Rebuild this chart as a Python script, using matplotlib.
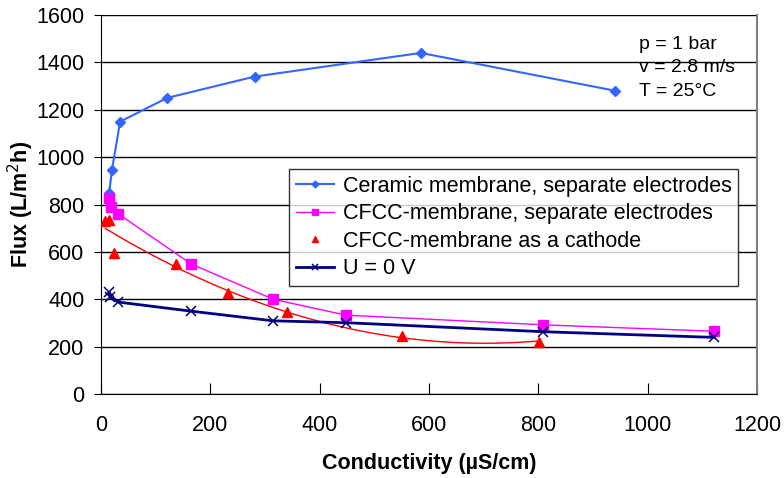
import numpy as np
import matplotlib
matplotlib.use("Agg")
import matplotlib.pyplot as plt

plt.rcParams['font.family'] = ['Liberation Sans', 'DejaVu Sans']

# conductivity (uS/cm) and flux (L/m2h)
ceramic_x = [14, 15, 20, 35, 121, 281, 585, 941]
ceramic_y = [840, 850, 945, 1150, 1250, 1340, 1440, 1280]

cfcc_x = [14, 18, 32, 165, 315, 448, 809, 1122]
cfcc_y = [828, 788, 760, 549, 400, 333, 292, 265]

cathode_x = [8, 15, 24, 137, 232, 341, 551, 801]
cathode_y = [730, 734, 594, 549, 425, 346, 245, 221]

zero_x = [15, 17, 32, 164, 315, 449, 809, 1122]
zero_y = [429, 410, 388, 350, 309, 301, 263, 239]

fig = plt.figure(figsize=(7.84, 4.78), dpi=100)
ax = fig.add_axes([0.1288, 0.1757, 0.8368, 0.7929])

fs = 15.5

ax.plot(ceramic_x, ceramic_y, color='#3366FF', marker='D', markersize=5,
        lw=1.5, label='Ceramic membrane, separate electrodes', zorder=4)
ax.plot(cfcc_x, cfcc_y, color='#FF00FF', marker='s', markersize=7,
        lw=1, label='CFCC-membrane, separate electrodes', zorder=4)
ax.plot(cathode_x, cathode_y, color='#FF0000', marker='^', markersize=7,
        lw=0, label='CFCC-membrane as a cathode', zorder=4)
# polynomial trendline
coef = np.polyfit(cathode_x, cathode_y, 2)
xs = np.linspace(min(cathode_x), max(cathode_x), 200)
ax.plot(xs, np.polyval(coef, xs), color='#FF0000', lw=1, zorder=3)
ax.plot(zero_x, zero_y, color='#000080', marker='x', markersize=7,
        mew=1.1, lw=2, label='U = 0 V', zorder=4)

ax.set_xlim(0, 1200)
ax.set_ylim(0, 1600)
ax.set_xticks(range(0, 1201, 200))
ax.set_yticks(range(0, 1601, 200))
ax.yaxis.grid(True, color='black', lw=1)
ax.set_axisbelow(True)
ax.tick_params(axis='x', direction='in', length=8, labelsize=fs, pad=15)
ax.tick_params(axis='y', direction='out', length=5, labelsize=fs, pad=7)
ax.spines['top'].set_visible(False)
ax.spines['right'].set_color('#808080')
ax.spines['right'].set_linewidth(1.5)

ax.set_xlabel('Conductivity (µS/cm)', fontsize=fs, fontweight='bold', labelpad=12)
ax.set_ylabel('Flux (L/m$^2$h)', fontsize=fs, fontweight='bold', labelpad=0)

leg = ax.legend(loc='upper left', bbox_to_anchor=(0.287, 0.593), fontsize=fs,
                frameon=True, fancybox=False, edgecolor='black', borderaxespad=0,
                handlelength=1.8, handletextpad=0.4, borderpad=0.3,
                labelspacing=0.3, markerscale=0.7)
leg.get_frame().set_linewidth(1)

ax.text(0.82, 0.945, 'p = 1 bar\nv = 2.8 m/s\nT = 25°C', transform=ax.transAxes,
        fontsize=fs - 1.5, va='top', ha='left', linespacing=1.5)

fig.savefig('out.png', dpi=100)
